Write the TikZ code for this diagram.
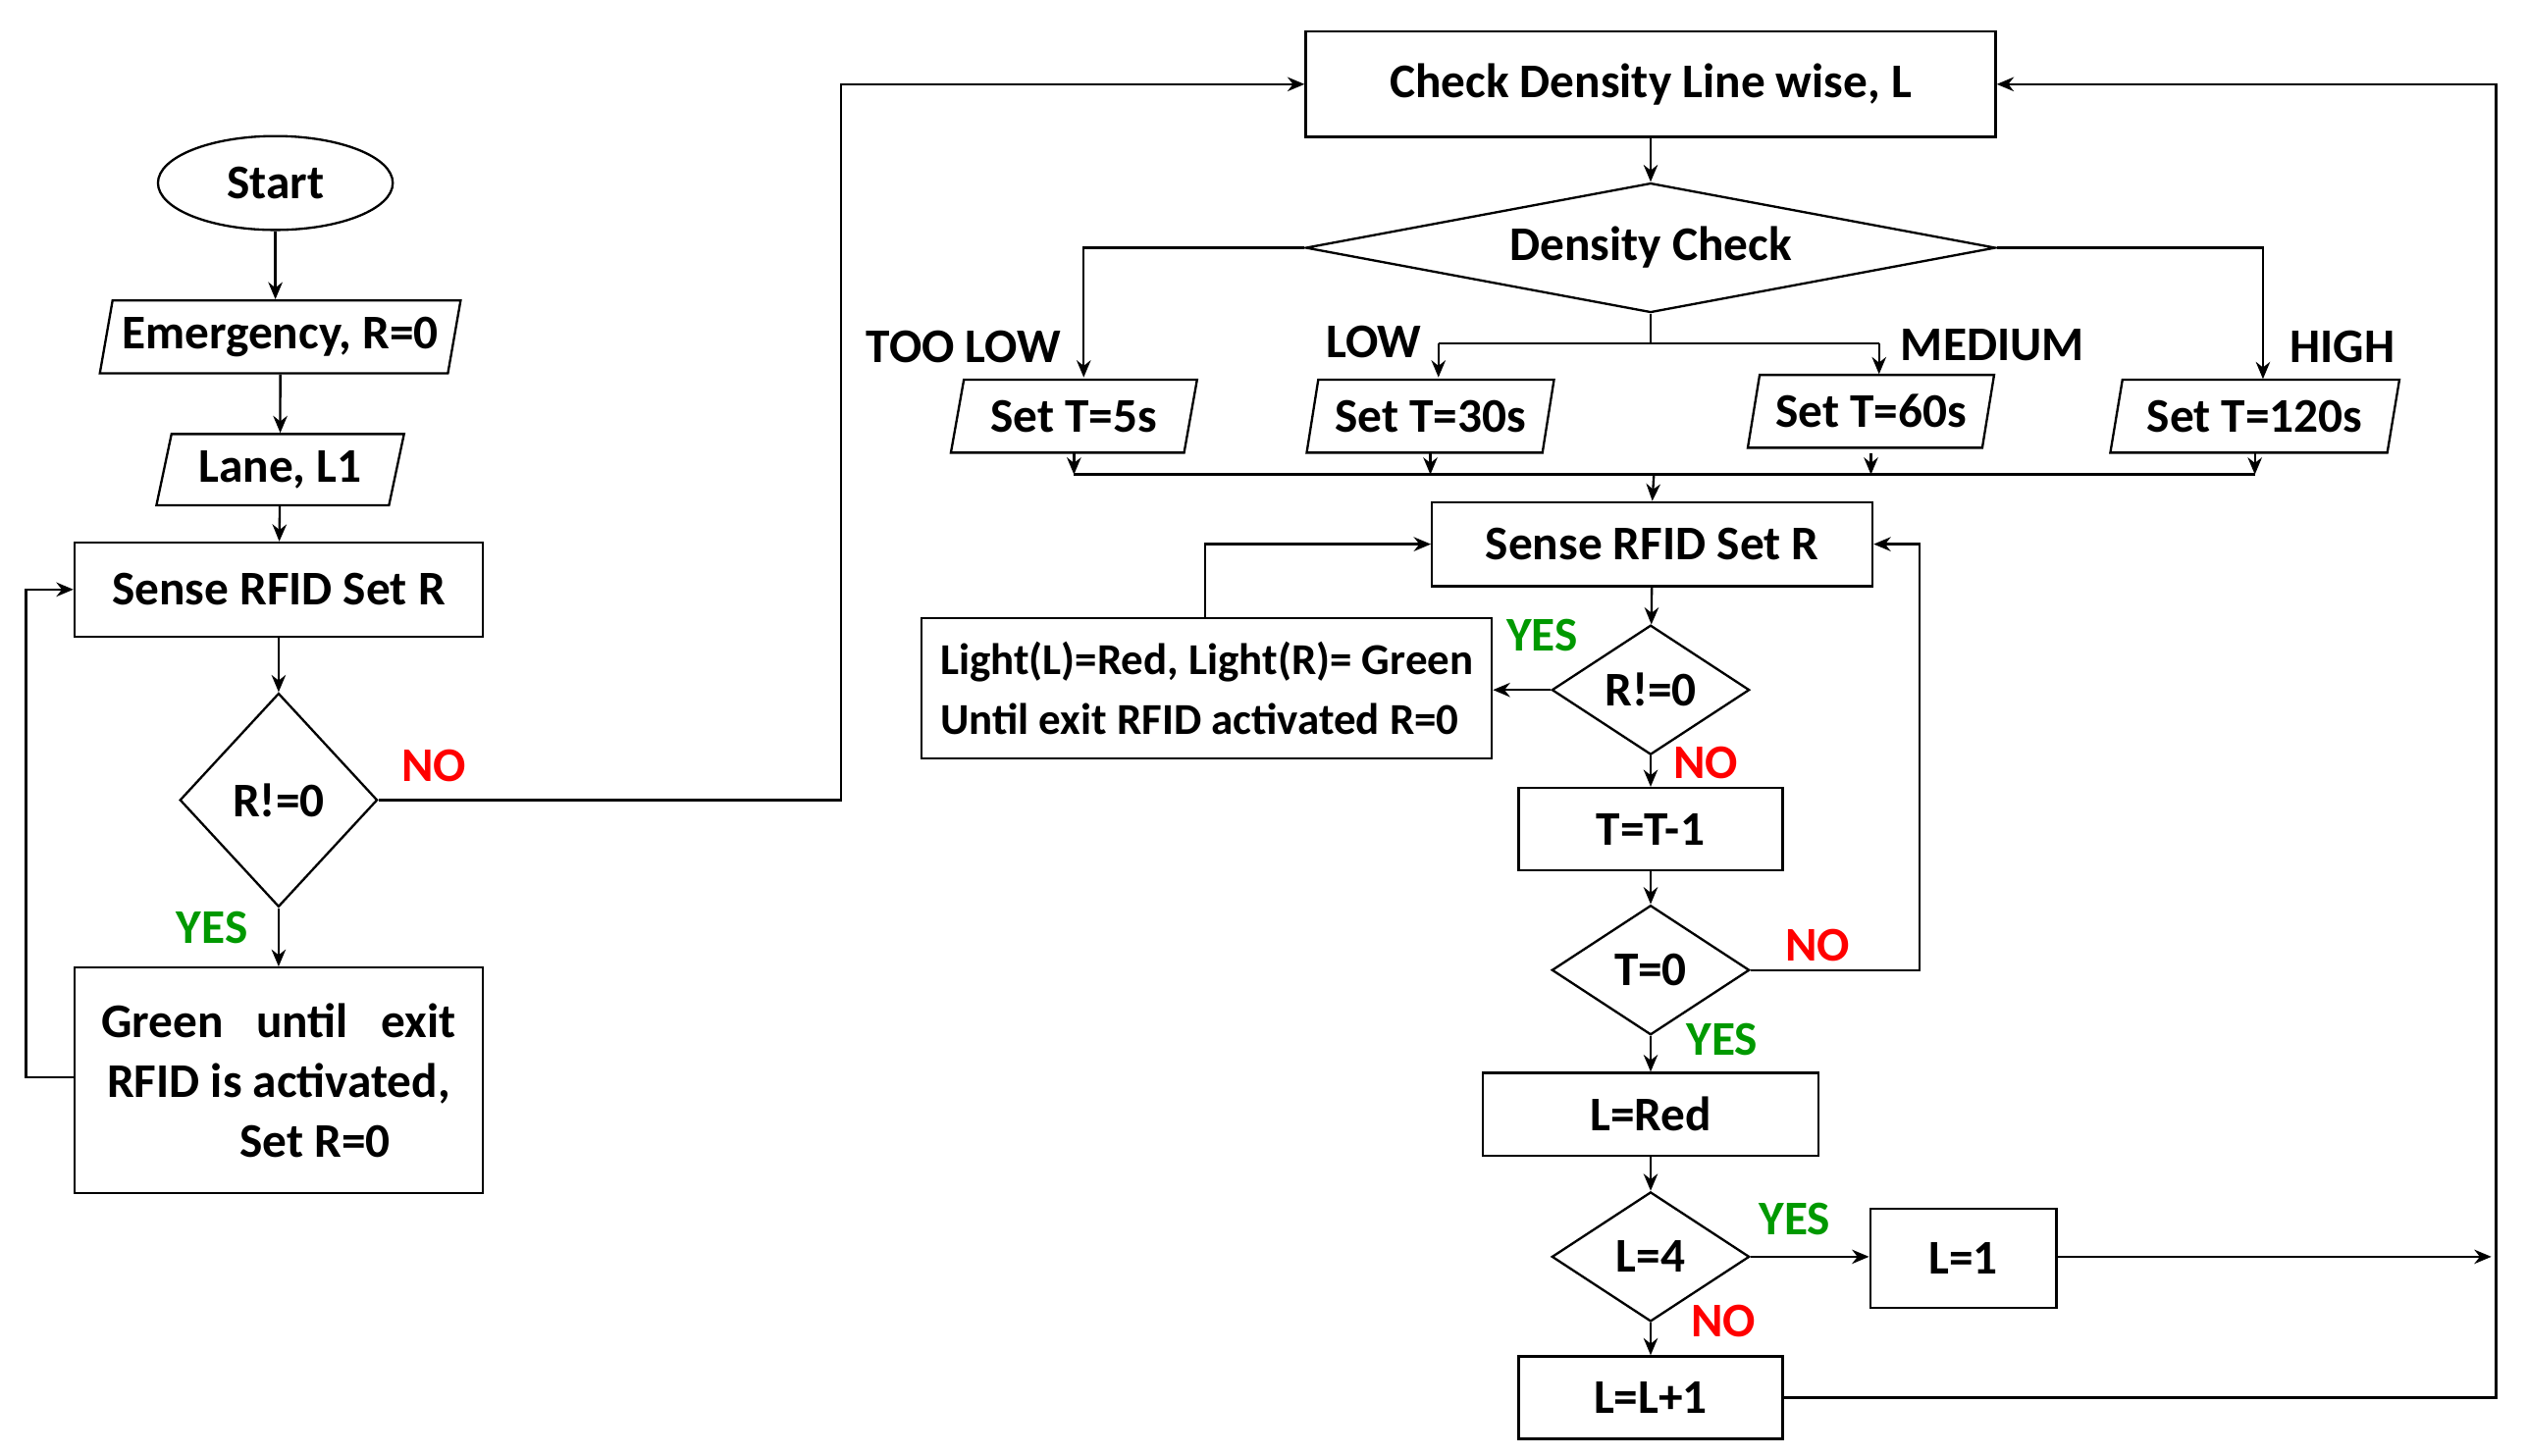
\documentclass[tikz,border=0pt]{standalone}
\usepackage{fontspec}
\setmainfont{Carlito}
\usetikzlibrary{shapes.geometric,arrows.meta}
\begin{document}
\begin{tikzpicture}[x=0.02cm,y=-0.02cm,
  every node/.style={font=\bfseries\fontsize{17}{21}\selectfont},
  box/.style={draw,thick,rectangle,inner sep=2pt},
  para/.style={draw,thick,trapezium,trapezium left angle=75,trapezium right angle=105,trapezium stretches=true,inner sep=1pt},
  dia/.style={draw,thick,diamond,aspect=1.5,inner sep=0pt},
  arr/.style={-{Stealth[length=6pt,width=5pt]},thick},
  ln/.style={thick},
  yes/.style={text=green!60!black},
  no/.style={text=red}]
\useasboundingbox (0,0) rectangle (1560,899);
% left column
\node[draw,thick,ellipse,minimum width=2.9cm,minimum height=1.16cm,inner sep=0pt] (start) at (170,113) {Start};
\node[para,minimum width=4.46cm,minimum height=0.9cm] (emg) at (173,208) {Emergency, R=0};
\node[para,minimum width=3.06cm,minimum height=0.88cm] (lane) at (173,290) {Lane, L1};
\node[box,minimum width=5.04cm,minimum height=1.16cm] (sense1) at (172,364) {Sense RFID Set R};
\node[draw,thick,diamond,minimum width=2.44cm,minimum height=2.64cm,inner sep=0pt] (d1) at (172,494) {R!=0};
\node[box,minimum width=5.04cm,minimum height=2.78cm,align=center] (green) at (172,667) {Green\ \ \ until\ \ \ exit\\RFID is activated,\\\hspace*{1.5em}Set R=0};
\draw[arr] (start) -- (start|-emg.north);
\draw[arr] (emg) -- (lane);
\draw[arr] (lane) -- (sense1);
\draw[arr] (sense1) -- (d1);
\draw[arr] (d1) -- (green);
\node[yes] at (131,573) {YES};
\node[no] at (268,473) {NO};
\coordinate (g1) at (16,665);
\draw[arr] (green.west|-g1) -- (g1) |- (sense1.west);
% top
\node[box,minimum width=8.52cm,minimum height=1.3cm] (check) at (1019,52) {Check Density Line wise, L};
\draw[arr] (d1.east) -- (519,494) |- (check.west);
\node[dia,aspect=5.3,minimum width=8.52cm,minimum height=1.6cm] (dc) at (1019,153) {Density Check};
\draw[arr] (check) -- (dc);
\node[para,minimum width=3.06cm,minimum height=0.9cm] (s5) at (663,257) {Set T=5s};
\node[para,minimum width=3.06cm,minimum height=0.9cm] (s30) at (883,257) {Set T=30s};
\node[para,minimum width=3.06cm,minimum height=0.9cm] (s60) at (1155,254) {Set T=60s};
\node[para,minimum width=3.6cm,minimum height=0.9cm] (s120) at (1392,257) {Set T=120s};
\draw[arr] (dc.west) -- (669,153) -- (669,233);
\draw[ln] (dc.south) -- (1019,212);
\draw[arr] (888,212) -- (888,233);
\draw[arr] (1160,212) -- (1160,231);
\draw[ln] (888,212) -- (1160,212);
\draw[arr] (dc.east) -- (1397,153) -- (1397,234);
\node at (595,214) {TOO LOW};
\node at (848,211) {LOW};
\node at (1230,213) {MEDIUM};
\node at (1446,214) {HIGH};
\draw[ln] (663,293) -- (1392,293);
\foreach \n/\x in {s5/663,s30/883,s60/1155,s120/1392}
  \draw[arr] (\x,280) -- (\x,293);
% right column
\node[box,minimum width=5.44cm,minimum height=1.04cm] (sense2) at (1020,336) {Sense RFID Set R};
\draw[arr] (1021,293) -- (sense2.north);
\node[box,minimum width=7.04cm,minimum height=1.74cm,align=left,font=\bfseries\fontsize{15.5}{21}\selectfont] (light) at (745,425) {Light(L)=Red, Light(R)= Green\\Until exit RFID activated R=0};
\node[dia,minimum width=2.44cm,minimum height=1.6cm] (d2) at (1019,426) {R!=0};
\node[box,minimum width=3.26cm,minimum height=1.02cm] (tt) at (1019,512) {T=T-1};
\node[dia,minimum width=2.44cm,minimum height=1.6cm] (d3) at (1019,599) {T=0};
\node[box,minimum width=4.14cm,minimum height=1.02cm] (lred) at (1019,688) {L=Red};
\node[dia,minimum width=2.44cm,minimum height=1.6cm] (d4) at (1019,776) {L=4};
\node[box,minimum width=2.3cm,minimum height=1.22cm] (l1) at (1212,777) {L=1};
\node[box,minimum width=3.26cm,minimum height=1.02cm] (lp) at (1019,863) {L=L+1};
\draw[arr] (sense2) -- (d2);
\draw[arr] (d2) -- (tt);
\draw[arr] (tt) -- (d3);
\draw[arr] (d3) -- (lred);
\draw[arr] (lred) -- (d4);
\draw[arr] (d4) -- (lp);
\draw[arr] (d2.west) -- (light.east|-d2.west);
\draw[arr] (744,381) |- (sense2.west);
\draw[arr] (d3.east) -- (1185,599) |- (sense2.east);
\draw[arr] (d4.east) -- (l1.west|-d4.east);
\coordinate (e1) at (1538,776);
\draw[arr] (l1.east|-e1) -- (e1);
\draw[arr] (lp.east) -- (1541,863) |- (check.east);
\node[yes] at (952,392) {YES};
\node[no] at (1053,471) {NO};
\node[no] at (1122,584) {NO};
\node[yes] at (1063,642) {YES};
\node[yes] at (1108,753) {YES};
\node[no] at (1064,816) {NO};
\end{tikzpicture}
\end{document}
